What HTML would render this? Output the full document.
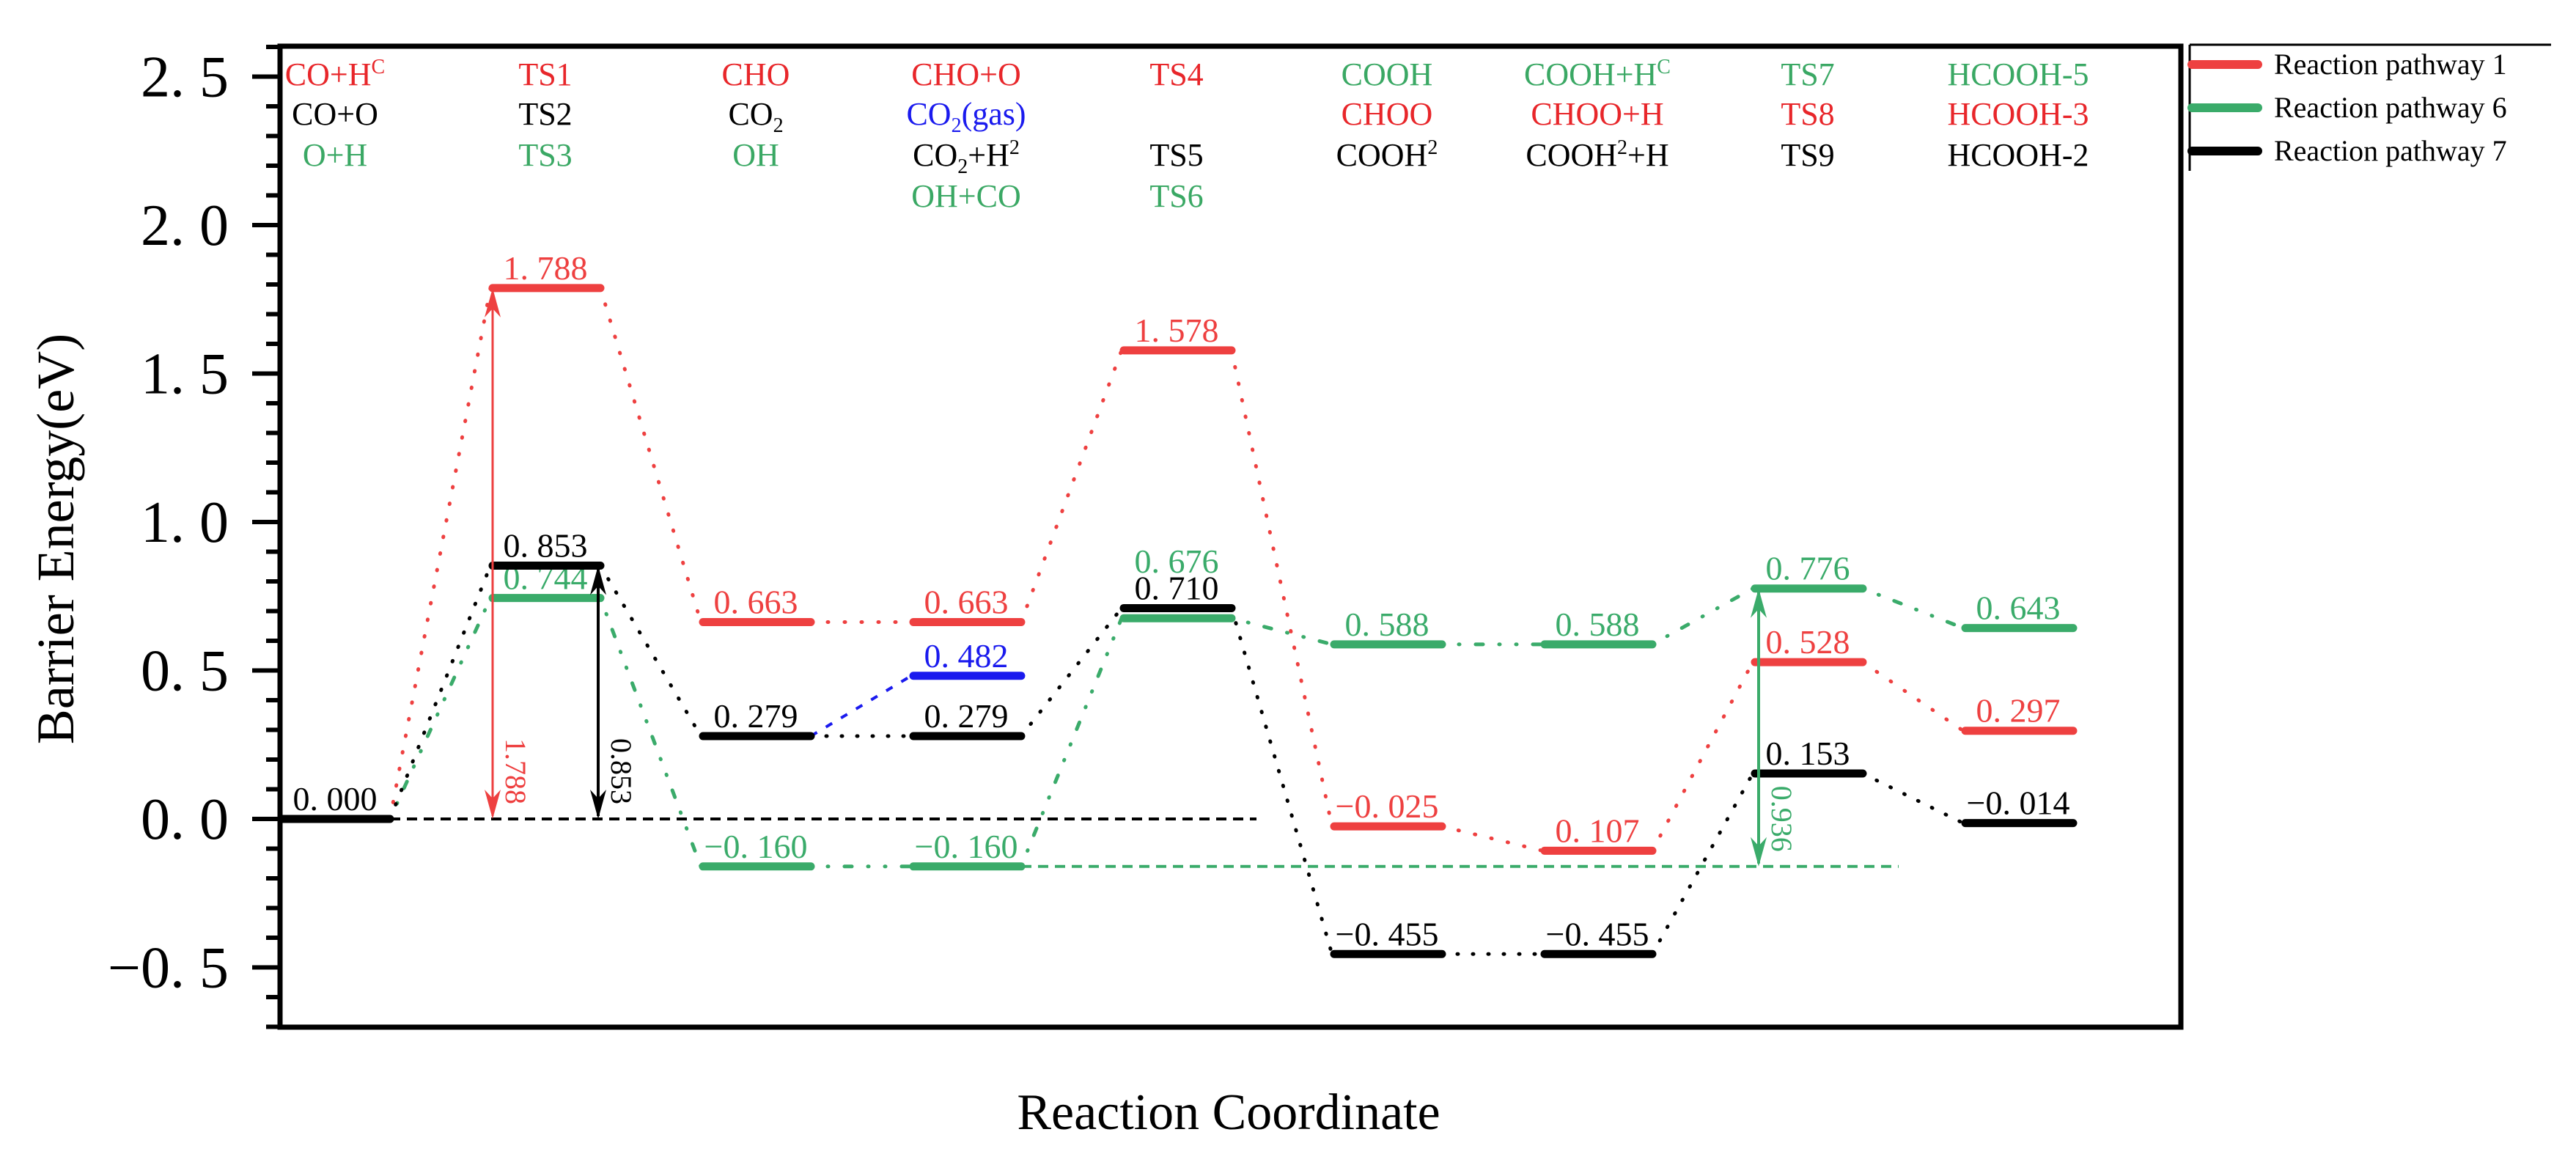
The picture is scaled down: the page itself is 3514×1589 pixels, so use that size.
<!DOCTYPE html>
<html><head><meta charset="utf-8"><style>
html,body{margin:0;padding:0;background:#fff;}
svg{display:block;font-family:"Liberation Serif",serif;}
text{font-family:"Liberation Serif",serif;}
</style></head><body>
<svg id="chart" width="3514" height="1589" viewBox="0 0 3514 1589" xmlns="http://www.w3.org/2000/svg"></svg>
<script>
// ---- data ----
const redValues   = [0.000, 1.788, 0.663, 0.663, 1.578, -0.025, -0.107, 0.528, 0.297];
const redLabels   = ["", "1. 788", "0. 663", "0. 663", "1. 578", "\u22120. 025", "0. 107", "0. 528", "0. 297"];
const greenValues = [0.000, 0.744, -0.160, -0.160, 0.676, 0.588, 0.588, 0.776, 0.643];
const greenLabels = ["", "0. 744", "\u22120. 160", "\u22120. 160", "0. 676", "0. 588", "0. 588", "0. 776", "0. 643"];
const blackValues = [0.000, 0.853, 0.279, 0.279, 0.710, -0.455, -0.455, 0.153, -0.014];
const blackLabels = ["0. 000", "0. 853", "0. 279", "0. 279", "0. 710", "\u22120. 455", "\u22120. 455", "0. 153", "\u22120. 014"];
const blueValue = 0.482, blueLabel = "0. 482", blueCol = 3;
const yTicks = [2.5, 2.0, 1.5, 1.0, 0.5, 0.0, -0.5];
const yTickLabels = ["2. 5", "2. 0", "1. 5", "1. 0", "0. 5", "0. 0", "\u22120. 5"];
const headers = [
  [["CO+H","C","#e8262a"],["CO+O","","#000"],["O+H","","#3aa864"]],
  [["TS1","","#e8262a"],["TS2","","#000"],["TS3","","#3aa864"]],
  [["CHO","","#e8262a"],["CO2","","#000"],["OH","","#3aa864"]],
  [["CHO+O","","#e8262a"],["CO2(gas)","","#1a1aee"],["CO2+H","2","#000"],["OH+CO","","#3aa864"]],
  [["TS4","","#e8262a"],null,["TS5","","#000"],["TS6","","#3aa864"]],
  [["COOH","","#3aa864"],["CHOO","","#e8262a"],["COOH","2","#000"]],
  [["COOH+H","C","#3aa864"],["CHOO+H","","#e8262a"],["COOH","2+H","#000"]],
  [["TS7","","#3aa864"],["TS8","","#e8262a"],["TS9","","#000"]],
  [["HCOOH-5","","#3aa864"],["HCOOH-3","","#e8262a"],["HCOOH-2","","#000"]]
];
// ---- layout ----
const RED="#ee4040", GREEN="#3aab6a", BLACK="#000", BLUE="#1a1aee";
const L=382, R=2975, T=63, B=1401;
const y0=1117, perEV=405;
function yS(v){return y0 - v*perEV;}
function colStart(i){return 382 + 287*i;}
const BW=150;
const svg=document.getElementById('chart');
const NS="http://www.w3.org/2000/svg";
function el(tag, attrs, parent){const e=document.createElementNS(NS,tag);for(const k in attrs)e.setAttribute(k,attrs[k]);(parent||svg).appendChild(e);return e;}

const box=el('rect',{x:L,y:T,width:R-L,height:B-T,fill:'none',stroke:'#000','stroke-width':7});


for(let k=-7;k<=26;k++){
  const v=k/10, y=yS(v);
  if(y<T||y>B) continue;
  const major = (k%5===0);
  const t=el('line',{x1:major?344:363,x2:L,y1:y,y2:y,stroke:'#000','stroke-width':6});
  
  
}
yTicks.forEach((v,i)=>{
  const t=el('text',{x:312,y:yS(v)+27,'text-anchor':'end','font-size':80,fill:'#000'});
  t.textContent=yTickLabels[i];
  
  
});
const yt=el('text',{x:0,y:0,transform:'translate(100,735) rotate(-90)','text-anchor':'middle','font-size':72,fill:'#000'});
yt.textContent='Barrier Energy(eV)';


const xt=el('text',{x:1676,y:1540,'text-anchor':'middle','font-size':70,fill:'#000'});
xt.textContent='Reaction Coordinate';



const rowY=[116,170,226,282];
headers.forEach((col,i)=>{
  col.forEach((h,r)=>{
    if(!h) return;
    const t=el('text',{x:colStart(i)+BW/2,y:rowY[r],'text-anchor':'middle','font-size':44,fill:h[2]});
    let base=h[0], sup=h[1];
    if(base==="CO2"||base==="CO2(gas)"||base==="CO2+H"){
      const s1=el('tspan',{},t);s1.textContent="CO";
      const s2=el('tspan',{'font-size':28,dy:10},t);s2.textContent="2";
      const s3=el('tspan',{dy:-10},t);s3.textContent=base.slice(3);
    } else if(sup==="2+H"){
      const s1=el('tspan',{},t);s1.textContent=base;
      const s2=el('tspan',{'font-size':28,dy:-16},t);s2.textContent="2";
      const s3=el('tspan',{dy:16},t);s3.textContent="+H";
      sup="";
    } else { t.textContent=base; }
    if(sup){const s=el('tspan',{'font-size':28,dy:-16},t);s.textContent=sup;}
    
    
  });
});

const d0=el('line',{x1:colStart(0)+BW,x2:1714,y1:yS(0),y2:yS(0),stroke:BLACK,'stroke-width':4,'stroke-dasharray':'14 9'});


const dg=el('line',{x1:colStart(3)+BW,x2:2590,y1:yS(greenValues[3]),y2:yS(greenValues[3]),stroke:GREEN,'stroke-width':4,'stroke-dasharray':'14 9'});



function connectors(vals,color,dash,name){
  for(let i=0;i<vals.length-1;i++){
    const c=el('line',{x1:colStart(i)+BW,y1:yS(vals[i]),x2:colStart(i+1),y2:yS(vals[i+1]),stroke:color,'stroke-width':5,'stroke-dasharray':dash,'stroke-linecap':'round'});
    
    
  }
}
connectors(redValues,RED,'1 22','pathway-1-connector');
connectors(greenValues,GREEN,'1 22 1 22 10 22','pathway-6-connector');
connectors(blackValues,BLACK,'1 20','pathway-7-connector');
const bc=el('line',{x1:colStart(2)+BW,y1:yS(blackValues[2]),x2:colStart(blueCol),y2:yS(blueValue),stroke:BLUE,'stroke-width':4,'stroke-dasharray':'10 14'});



function drawLevels(vals,labels,color,name,skipFirst,lift){
  vals.forEach((v,i)=>{
    if(skipFirst&&i===0) return;
    const b=el('line',{x1:colStart(i)+3,x2:colStart(i)+BW,y1:yS(v),y2:yS(v),stroke:color,'stroke-width':11,'stroke-linecap':'round'});
    
    
    if(labels[i]){
      const t=el('text',{x:colStart(i)+BW/2,y:yS(v)-12-(lift[i]||0),'text-anchor':'middle','font-size':46,fill:color});
      t.textContent=labels[i];
      
      
    }
  });
}
drawLevels(redValues,redLabels,RED,'pathway-1',true,{});
drawLevels(greenValues,greenLabels,GREEN,'pathway-6',true,{4:50});
drawLevels(blackValues,blackLabels,BLACK,'pathway-7',false,{});
const bl=el('line',{x1:colStart(blueCol)+3,x2:colStart(blueCol)+BW,y1:yS(blueValue),y2:yS(blueValue),stroke:BLUE,'stroke-width':11,'stroke-linecap':'round'});


const btl=el('text',{x:colStart(blueCol)+BW/2,y:yS(blueValue)-12,'text-anchor':'middle','font-size':46,fill:BLUE});
btl.textContent=blueLabel;



function arrow(x,v1,v2,color,label,w,name){
  const ya=yS(v1), yb=yS(v2);
  const g=el('g',{});
  
  
  el('line',{x1:x,x2:x,y1:ya-4,y2:yb+4,stroke:color,'stroke-width':w},g);
  el('path',{d:`M${x-11},${ya-40} L${x},${ya} L${x+11},${ya-40} L${x},${ya-28}Z`,fill:color},g);
  el('path',{d:`M${x-11},${yb+40} L${x},${yb} L${x+11},${yb+40} L${x},${yb+28}Z`,fill:color},g);
  const t=el('text',{x:0,y:0,transform:`translate(${x+18},${ya-110}) rotate(90)`,'font-size':40,fill:color},g);
  t.textContent=label;
}
arrow(colStart(1)+3, blackValues[0], redValues[1], RED, (redValues[1]-redValues[0]).toFixed(3), 3, 'pathway-1-barrier-arrow');
arrow(colStart(1)+BW-3, blackValues[0], blackValues[1], BLACK, (blackValues[1]-blackValues[0]).toFixed(3), 4, 'pathway-7-barrier-arrow');
arrow(colStart(7)+8, greenValues[3], greenValues[7], GREEN, (greenValues[7]-greenValues[3]).toFixed(3), 4, 'pathway-6-barrier-arrow');

const lg=el('g',{});


el('line',{x1:2987,x2:3480,y1:61,y2:61,stroke:'#000','stroke-width':3},lg);
el('line',{x1:2987,x2:2987,y1:61,y2:233,stroke:'#000','stroke-width':3},lg);
const legendNames=["Reaction pathway 1","Reaction pathway 6","Reaction pathway 7"];
const legendColors=[RED,GREEN,BLACK];
legendNames.forEach((n,i)=>{
  const y=88+i*59;
  const e=el('g',{},lg);
  
  
  el('line',{x1:2990,x2:3080,y1:y,y2:y,stroke:legendColors[i],'stroke-width':12,'stroke-linecap':'round'},e);
  const t=el('text',{x:3102,y:y+13,'font-size':40,fill:'#000'},e);
  t.textContent=n;
});
</script>
</body></html>
